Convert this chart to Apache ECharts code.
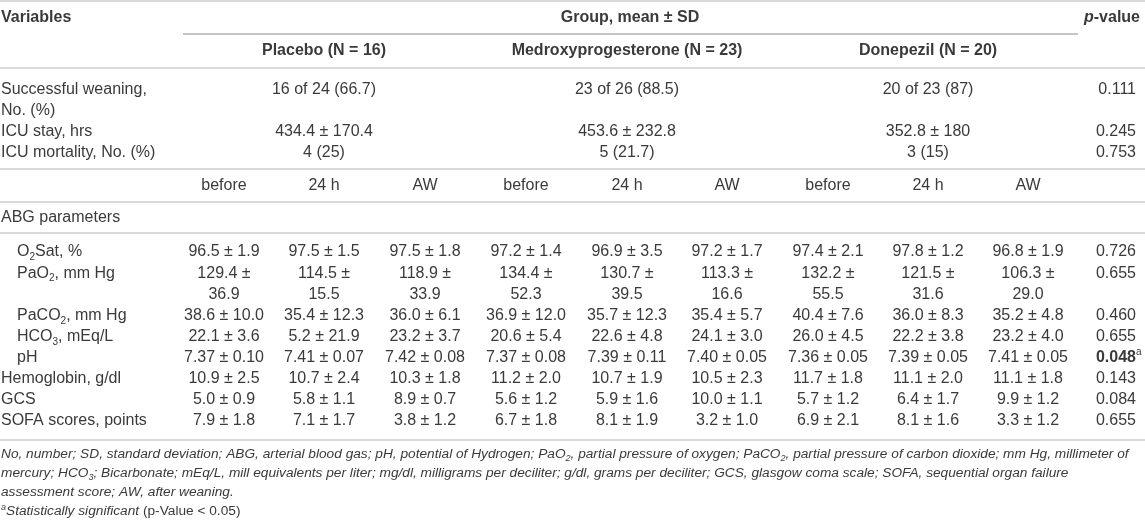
<!DOCTYPE html>
<html><head><meta charset="utf-8">
<script src="https://cdn.jsdelivr.net/npm/echarts@6/dist/echarts.min.js"></script>
<style>html,body{margin:0;padding:0;background:#fff}#c{width:1145px;height:527px}</style>
</head><body><div id="c"></div>
<script>
// ================= DATA =================
const groups = ['Placebo (N = 16)', 'Medroxyprogesterone (N = 23)', 'Donepezil (N = 20)'];
const timepoints = ['before', '24 h', 'AW'];

const outcomeLabels = [['Successful weaning,', 'No. (%)'], ['ICU stay, hrs'], ['ICU mortality, No. (%)']];
const outcomeValues = [
  ['16 of 24 (66.7)', '23 of 26 (88.5)', '20 of 23 (87)'],
  ['434.4 ± 170.4', '453.6 ± 232.8', '352.8 ± 180'],
  ['4 (25)', '5 (21.7)', '3 (15)']
];
const outcomeP = [0.111, 0.245, 0.753];

const abgTitle = 'ABG parameters';
const abgLabels = ['O₂Sat, %', 'PaO₂, mm Hg', 'PaCO₂, mm Hg', 'HCO₃, mEq/L', 'pH'];
const abgDecimals = [1, 1, 1, 1, 2];
const abgMeans = [
  [96.5, 97.5, 97.5, 97.2, 96.9, 97.2, 97.4, 97.8, 96.8],
  [129.4, 114.5, 118.9, 134.4, 130.7, 113.3, 132.2, 121.5, 106.3],
  [38.6, 35.4, 36.0, 36.9, 35.7, 35.4, 40.4, 36.0, 35.2],
  [22.1, 5.2, 23.2, 20.6, 22.6, 24.1, 26.0, 22.2, 23.2],
  [7.37, 7.41, 7.42, 7.37, 7.39, 7.40, 7.36, 7.39, 7.41]
];
const abgSDs = [
  [1.9, 1.5, 1.8, 1.4, 3.5, 1.7, 2.1, 1.2, 1.9],
  [36.9, 15.5, 33.9, 52.3, 39.5, 16.6, 55.5, 31.6, 29.0],
  [10.0, 12.3, 6.1, 12.0, 12.3, 5.7, 7.6, 8.3, 4.8],
  [3.6, 21.9, 3.7, 5.4, 4.8, 3.0, 4.5, 3.8, 4.0],
  [0.10, 0.07, 0.08, 0.08, 0.11, 0.05, 0.05, 0.05, 0.05]
];
const abgP = [0.726, 0.655, 0.460, 0.655, 0.048];
const abgWrapped = [false, true, false, false, false];

const clinLabels = ['Hemoglobin, g/dl', 'GCS', 'SOFA scores, points'];
const clinMeans = [
  [10.9, 10.7, 10.3, 11.2, 10.7, 10.5, 11.7, 11.1, 11.1],
  [5.0, 5.8, 8.9, 5.6, 5.9, 10.0, 5.7, 6.4, 9.9],
  [7.9, 7.1, 3.8, 6.7, 8.1, 3.2, 6.9, 8.1, 3.3]
];
const clinSDs = [
  [2.5, 2.4, 1.8, 2.0, 1.9, 2.3, 1.8, 2.0, 1.8],
  [0.9, 1.1, 0.7, 1.2, 1.6, 1.1, 1.2, 1.7, 1.2],
  [1.8, 1.7, 1.2, 1.8, 1.9, 1.0, 2.1, 1.6, 1.2]
];
const clinP = [0.143, 0.084, 0.655];

const footnotes = [
  'No, number; SD, standard deviation; ABG, arterial blood gas; pH, potential of Hydrogen; PaO₂, partial pressure of oxygen; PaCO₂, partial pressure of carbon dioxide; mm Hg, millimeter of',
  'mercury; HCO₃; Bicarbonate; mEq/L, mill equivalents per liter; mg/dl, milligrams per deciliter; g/dl, grams per deciliter; GCS, glasgow coma scale; SOFA, sequential organ failure',
  'assessment score; AW, after weaning.'
];
const sigNote = ['Statistically significant ', '(p-Value < 0.05)'];
const alpha = 0.05;

// ================= LAYOUT =================
const W = 1145, H = 527;
const FONT = "'Liberation Sans', Arial, Helvetica, sans-serif";
const colX = [224, 324, 425, 526, 627, 727, 828, 928, 1028];
const groupX = [324, 627, 928];
const labelX = 1, indentX = 17, pRight = 1136, headRight = 1140, groupTitleX = 630;
const lineH = 20.8, measH = 21.1;
const yHead = 18, yGroupLine = 34, yGroups = 51, yLine1 = 68;
const yOutcome0 = 90;
const yLine2 = 169, yTime = 186, yLine3 = 202, yAbg = 218, yLine4 = 233;
const yMeasure0 = 252;
const yLine5 = 440, yFoot0 = 454, footH = 19.2;

const TEXT = '#3a3a3a', DARK = '#111';
const RICH = {
  n:  {fontSize: 16, lineHeight: 21, color: TEXT, fontFamily: FONT},
  ns: {fontSize: 10, lineHeight: 10, verticalAlign: 'bottom', color: TEXT, fontFamily: FONT},
  b:  {fontSize: 16, lineHeight: 21, fontWeight: 'bold', color: DARK, fontFamily: FONT},
  bi: {fontSize: 16, lineHeight: 21, fontWeight: 'bold', fontStyle: 'italic', color: DARK, fontFamily: FONT},
  na: {fontSize: 10, lineHeight: 10, verticalAlign: 'top', color: TEXT, fontFamily: FONT},
  i:  {fontSize: 13.7, lineHeight: 18, fontStyle: 'italic', color: TEXT, fontFamily: FONT},
  is: {fontSize: 9, lineHeight: 9, verticalAlign: 'bottom', fontStyle: 'italic', color: TEXT, fontFamily: FONT},
  ia: {fontSize: 9, lineHeight: 9, verticalAlign: 'top', fontStyle: 'italic', color: TEXT, fontFamily: FONT},
  f:  {fontSize: 13.7, lineHeight: 18, color: TEXT, fontFamily: FONT},
  sp: {fontSize: 10, lineHeight: 21, color: TEXT, fontFamily: FONT}
};

function rich(str, base) {
  let out = '', buf = '';
  const flush = () => { if (buf) { out += '{' + base + '|' + buf + '}'; buf = ''; } };
  for (const ch of str) {
    if (ch === '₂' || ch === '₃') { flush(); out += '{' + (base === 'i' ? 'is' : 'ns') + '|' + (ch === '₂' ? '2' : '3') + '}'; }
    else buf += ch;
  }
  flush();
  return out;
}

const cells = [], cellMeta = [];
function cell(x, y, text, align) { cells.push([x, y]); cellMeta.push({text, align}); }
const lines = [];
function hline(x1, x2, y, color, width) { lines.push([x1, y, x2, color, width]); }

// header
cell(labelX, yHead, '{b|Variables}', 'left');
cell(groupTitleX, yHead, '{b|Group, mean ± SD}', 'center');
cell(headRight, yHead, '{bi|p}{b|-value}', 'right');
groups.forEach((g, i) => cell(groupX[i], yGroups, rich(g, 'b'), 'center'));

function pCell(yy, p) {
  if (p < alpha) {
    cell(pRight, yy, '{b|' + p.toFixed(3) + '}', 'right');
    cell(pRight, yy, '{na|a}{sp| }', 'left');
  } else {
    cell(pRight, yy, rich(p.toFixed(3), 'n'), 'right');
  }
}

// outcomes
let y = yOutcome0;
outcomeLabels.forEach((lab, r) => {
  lab.forEach((t, k) => cell(labelX, y + k * lineH, rich(t, 'n'), 'left'));
  outcomeValues[r].forEach((v, g) => cell(groupX[g], y, rich(v, 'n'), 'center'));
  pCell(y, outcomeP[r]);
  y += lab.length * lineH;
});

// timepoints
groups.forEach((g, gi) => timepoints.forEach((t, ti) => cell(colX[gi * 3 + ti], yTime, rich(t, 'n'), 'center')));
cell(labelX, yAbg, rich(abgTitle, 'n'), 'left');

y = yMeasure0;
abgLabels.forEach((lab, r) => {
  cell(indentX, y, rich(lab, 'n'), 'left');
  abgMeans[r].forEach((m, c) => {
    const d = abgDecimals[r];
    const a = m.toFixed(d), s = abgSDs[r][c].toFixed(d);
    if (abgWrapped[r]) {
      cell(colX[c], y, rich(a + ' ±', 'n'), 'center');
      cell(colX[c], y + measH, rich(s, 'n'), 'center');
    } else {
      cell(colX[c], y, rich(a + ' ± ' + s, 'n'), 'center');
    }
  });
  pCell(y, abgP[r]);
  y += (abgWrapped[r] ? 2 : 1) * measH;
});
clinLabels.forEach((lab, r) => {
  cell(labelX, y, rich(lab, 'n'), 'left');
  clinMeans[r].forEach((m, c) => cell(colX[c], y, rich(m.toFixed(1) + ' ± ' + clinSDs[r][c].toFixed(1), 'n'), 'center'));
  pCell(y, clinP[r]);
  y += measH;
});

// footnotes
footnotes.forEach((t, k) => cell(labelX, yFoot0 + k * footH, rich(t, 'i'), 'left'));
cell(labelX, yFoot0 + 3 * footH, '{ia|a}{i|' + sigNote[0] + '}{f|' + sigNote[1] + '}', 'left');

// rules
const RULE = '#d9d9d9';
hline(0, W, 1, RULE, 2);
hline(183, 1078, yGroupLine, '#8c8c8c', 1.2);
hline(0, W, yLine1, RULE, 2);
hline(0, W, yLine2, RULE, 2);
hline(0, W, yLine3, RULE, 2);
hline(0, W, yLine4, RULE, 2);
hline(0, W, yLine5, RULE, 2);

const chart = echarts.init(document.getElementById('c'), null, {renderer: 'canvas'});
chart.setOption({
  animation: false,
  backgroundColor: '#fff',
  grid: {left: 0, right: 0, top: 0, bottom: 0, containLabel: false},
  xAxis: {type: 'value', min: 0, max: W, show: false},
  yAxis: {type: 'value', min: 0, max: H, inverse: true, show: false},
  series: [
    {
      type: 'custom', silent: true, clip: false,
      data: lines,
      renderItem: function (params, api) {
        const a = api.coord([api.value(0), api.value(1)]);
        const b = api.coord([api.value(2), api.value(1)]);
        const d = lines[params.dataIndex];
        return {type: 'line', shape: {x1: a[0], y1: a[1], x2: b[0], y2: b[1]}, style: {stroke: d[3], lineWidth: d[4]}};
      }
    },
    {
      type: 'custom', silent: true, clip: false,
      data: cells,
      renderItem: function (params, api) {
        const p = api.coord([api.value(0), api.value(1)]);
        const m = cellMeta[params.dataIndex];
        return {type: 'text', x: p[0], y: p[1], style: {text: m.text, rich: RICH, align: m.align, verticalAlign: 'middle', fontFamily: FONT, fontSize: 16, fill: TEXT}};
      }
    }
  ]
});
</script></body></html>
